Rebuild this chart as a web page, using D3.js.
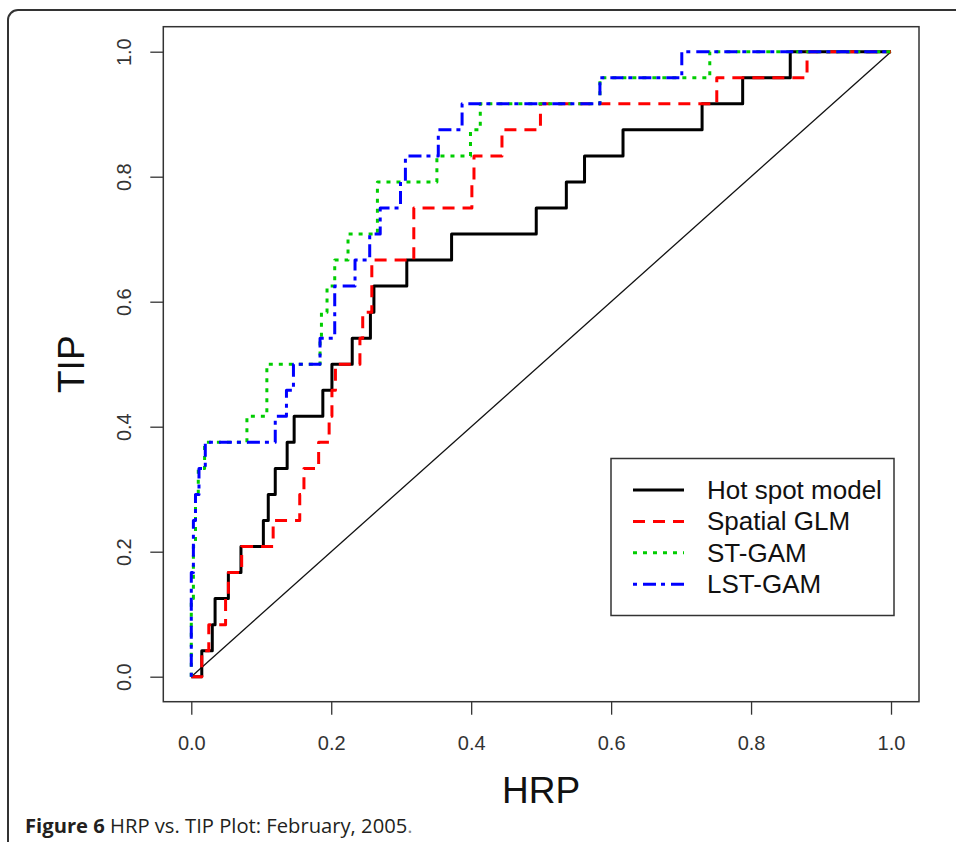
<!DOCTYPE html>
<html>
<head>
<meta charset="utf-8">
<script src="https://cdn.jsdelivr.net/npm/d3@7"></script>
<style>
  body { margin: 0; background: #fff; }
  svg { display: block; }
</style>
</head>
<body>
<svg id="chart"></svg>
<script>
// step points (HRP, TIP)
const hotSpotHrp = [0, 0.015, 0.030, 0.034, 0.053, 0.071, 0.103, 0.110, 0.120, 0.137, 0.147, 0.188, 0.201, 0.230, 0.256, 0.261, 0.308, 0.372, 0.493, 0.536, 0.562, 0.617, 0.730, 0.788, 0.856, 1.0];
const hotSpotTip = [0, 0.0417, 0.0833, 0.125, 0.1667, 0.2083, 0.25, 0.2917, 0.3333, 0.375, 0.4167, 0.4583, 0.5, 0.5417, 0.5833, 0.625, 0.6667, 0.7083, 0.75, 0.7917, 0.8333, 0.875, 0.9167, 0.9583, 1, 1];

const glmHrp = [0, 0.015, 0.025, 0.049, 0.053, 0.072, 0.117, 0.155, 0.161, 0.182, 0.197, 0.201, 0.206, 0.241, 0.245, 0.258, 0.318, 0.401, 0.404, 0.444, 0.499, 0.751, 0.880, 1.0];
const glmTip = [0, 0.0417, 0.0833, 0.125, 0.1667, 0.2083, 0.25, 0.2917, 0.3333, 0.375, 0.4167, 0.4583, 0.5, 0.5417, 0.5833, 0.6667, 0.75, 0.7917, 0.8333, 0.875, 0.9167, 0.9583, 1, 1];

const stGamHrp = [0, 0, 0.003, 0.006, 0.010, 0.019, 0.0795, 0.108, 0.184, 0.186, 0.194, 0.205, 0.224, 0.266, 0.351, 0.399, 0.413, 0.584, 0.741, 1.0];
const stGamTip = [0, 0.125, 0.2083, 0.2917, 0.3333, 0.375, 0.4167, 0.5, 0.5417, 0.5833, 0.625, 0.6667, 0.7083, 0.7917, 0.8333, 0.875, 0.9167, 0.9583, 1, 1];

const lstGamHrp = [0, 0, 0.003, 0.006, 0.011, 0.020, 0.120, 0.136, 0.146, 0.184, 0.205, 0.234, 0.255, 0.270, 0.299, 0.306, 0.353, 0.387, 0.584, 0.701, 1.0];
const lstGamTip = [0, 0.1667, 0.25, 0.2917, 0.3333, 0.375, 0.4167, 0.4583, 0.5, 0.5417, 0.625, 0.6667, 0.7083, 0.75, 0.7917, 0.8333, 0.875, 0.9167, 0.9583, 1, 1];

const seriesNames = ["Hot spot model", "Spatial GLM", "ST-GAM", "LST-GAM"];
const tickValues = [0, 0.2, 0.4, 0.6, 0.8, 1.0];

const W = 956, H = 842;

const svg = d3.select("#chart")
  .attr("width", W)
  .attr("height", H);

// outer figure frame with rounded corner
svg.append("path")
  .attr("d", "M8,842 V20 A10,10 0 0 1 18,10 H956")
  .attr("fill", "none")
  .attr("stroke", "#333")
  .attr("stroke-width", 2);

const x = d3.scaleLinear().domain([-0.04, 1.04]).range([163.3, 919]);
const y = d3.scaleLinear().domain([-0.04, 1.04]).range([701.7, 26.7]);

const font = "'Liberation Sans', Arial, Helvetica, sans-serif";

// axes
const xAxis = d3.axisBottom(x).tickValues(tickValues).tickFormat(d3.format(".1f")).tickSize(13).tickSizeOuter(0);
const yAxis = d3.axisLeft(y).tickValues(tickValues).tickFormat(d3.format(".1f")).tickSize(13).tickSizeOuter(0);

const xAxisG = svg.append("g")
  .attr("transform", `translate(0,${y(-0.04)})`)
  .call(xAxis);
xAxisG.select(".domain").remove();
xAxisG.selectAll("line").attr("stroke", "#333").attr("stroke-width", 1.3);
xAxisG.selectAll("text")
  .attr("y", 48).attr("dy", null)
  .attr("font-family", font).attr("font-size", 20).attr("fill", "#333");

const yAxisG = svg.append("g")
  .attr("transform", `translate(${x(-0.04)},0)`)
  .call(yAxis);
yAxisG.select(".domain").remove();
yAxisG.selectAll("line").attr("stroke", "#333").attr("stroke-width", 1.3);
yAxisG.selectAll("text")
  .attr("transform", "rotate(-90)")
  .attr("x", 0).attr("y", -32).attr("dy", null)
  .attr("text-anchor", "middle")
  .attr("font-family", font).attr("font-size", 20).attr("fill", "#333");

// plot box
svg.append("rect")
  .attr("x", x(-0.04)).attr("y", y(1.04))
  .attr("width", x(1.04) - x(-0.04))
  .attr("height", y(-0.04) - y(1.04))
  .attr("fill", "none")
  .attr("stroke", "#333")
  .attr("stroke-width", 1.5);

// axis titles
svg.append("text")
  .attr("x", (x(-0.04) + x(1.04)) / 2).attr("y", 803)
  .attr("text-anchor", "middle")
  .attr("font-family", font).attr("font-size", 37).attr("fill", "#111")
  .text("HRP");

svg.append("text")
  .attr("transform", `translate(84,${(y(-0.04) + y(1.04)) / 2}) rotate(-90)`)
  .attr("text-anchor", "middle")
  .attr("font-family", font).attr("font-size", 37).attr("fill", "#111")
  .text("TIP");

// reference diagonal
svg.append("line")
  .attr("x1", x(0)).attr("y1", y(0))
  .attr("x2", x(1)).attr("y2", y(1))
  .attr("stroke", "#111")
  .attr("stroke-width", 1.3);

const series = [
  {name: seriesNames[0], hrp: hotSpotHrp, tip: hotSpotTip, color: "#000000", dash: null},
  {name: seriesNames[1], hrp: glmHrp, tip: glmTip, color: "#ff0000", dash: "12,8"},
  {name: seriesNames[2], hrp: stGamHrp, tip: stGamTip, color: "#00cd00", dash: "4,6"},
  {name: seriesNames[3], hrp: lstGamHrp, tip: lstGamTip, color: "#0000ff", dash: "4,6,13,5"}
];

const line = d3.line()
  .x(d => x(d[0]))
  .y(d => y(d[1]))
  .curve(d3.curveStepAfter);

svg.append("g").selectAll("path")
  .data(series)
  .join("path")
    .attr("d", s => line(s.hrp.map((h, i) => [h, s.tip[i]])))
    .attr("fill", "none")
    .attr("stroke", s => s.color)
    .attr("stroke-width", 3)
    .attr("stroke-linejoin", "round")
    .attr("stroke-dasharray", s => s.dash);

// legend
const legend = svg.append("g");
legend.append("rect")
  .attr("x", 611).attr("y", 458.5)
  .attr("width", 283).attr("height", 157)
  .attr("fill", "#fff")
  .attr("stroke", "#333")
  .attr("stroke-width", 1.5);

const rows = legend.selectAll("g.row")
  .data(series)
  .join("g")
    .attr("class", "row")
    .attr("transform", (d, i) => `translate(0,${490 + i * 31.4})`);

rows.append("line")
  .attr("x1", 633).attr("x2", 684)
  .attr("stroke", d => d.color)
  .attr("stroke-width", 3)
  .attr("stroke-dasharray", d => d.dash);

rows.append("text")
  .attr("x", 707).attr("y", 9)
  .attr("font-family", font).attr("font-size", 26).attr("fill", "#111")
  .text(d => d.name);

// caption
const caption = svg.append("text")
  .attr("x", 25).attr("y", 833)
  .attr("font-family", "'Open Sans', sans-serif")
  .attr("font-size", 20.2)
  .attr("fill", "#231f20");
caption.append("tspan").attr("font-weight", "bold").text("Figure 6");
caption.append("tspan").text(" HRP vs. TIP Plot: February, 2005");
caption.append("tspan").attr("fill", "#888").text(".");
</script>
</body>
</html>
